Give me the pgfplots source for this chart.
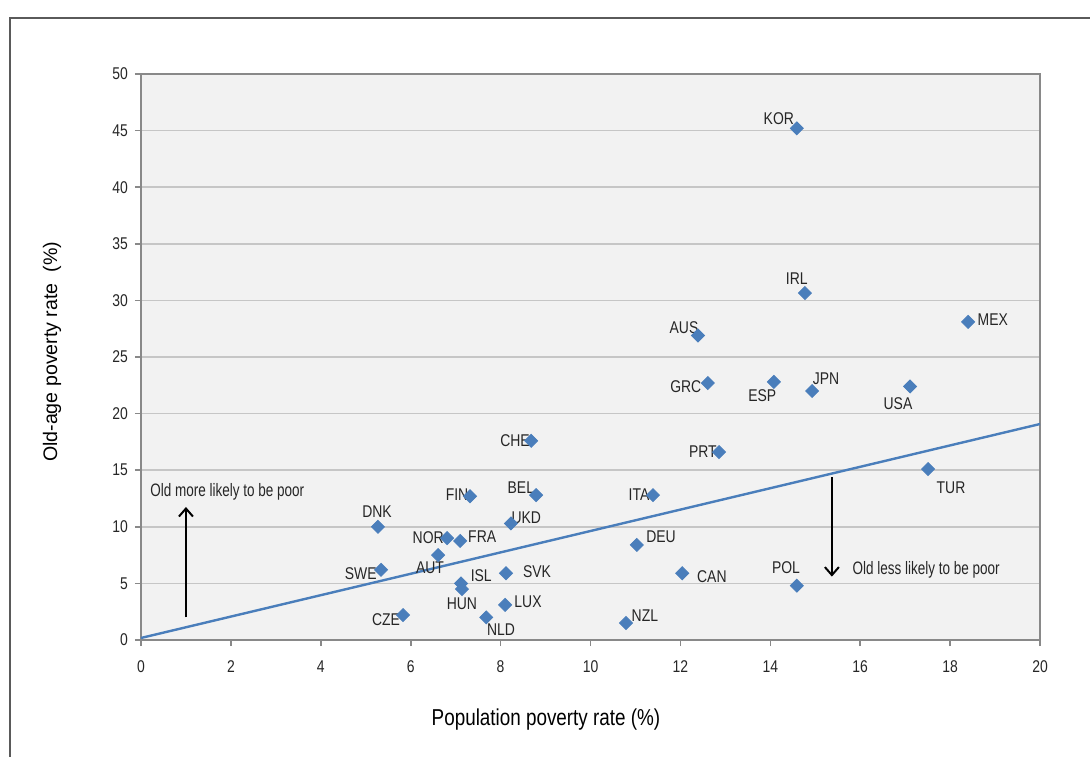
\documentclass[border=0pt]{standalone}
\usepackage{fontspec}
\setmainfont[FakeStretch=0.82]{Liberation Sans}
\newfontfamily\arial{Liberation Sans}
\newfontfamily\condfont[FakeStretch=0.75]{Liberation Sans}
\usepackage{pgfplots}
\usepackage{pgfplotstable}
\pgfplotsset{compat=1.18}
\usetikzlibrary{arrows.meta}
\definecolor{ptc}{HTML}{4A7EBB}
\definecolor{bgc}{HTML}{F2F2F2}
\definecolor{gridc}{HTML}{C6C6C6}
\definecolor{axc}{HTML}{898989}
\definecolor{framec}{HTML}{5A5A5A}
\definecolor{txtc}{HTML}{262626}

\pgfplotstableread{
x y name
14.59 45.2 KOR
14.77 30.65 IRL
18.40 28.1 MEX
12.39 26.9 AUS
12.61 22.7 GRC
14.08 22.8 ESP
14.93 22.0 JPN
17.11 22.4 USA
8.68 17.6 CHE
12.86 16.6 PRT
17.51 15.1 TUR
7.32 12.7 FIN
8.79 12.8 BEL
11.39 12.8 ITA
5.27 10.0 DNK
8.23 10.3 UKD
6.81 9.0 NOR
7.10 8.75 FRA
11.03 8.4 DEU
6.61 7.5 AUT
5.34 6.2 SWE
8.12 5.9 SVK
12.04 5.9 CAN
7.12 5.0 ISL
7.14 4.5 HUN
14.59 4.8 POL
8.10 3.1 LUX
5.83 2.2 CZE
7.68 2.0 NLD
10.79 1.5 NZL
}\data

\begin{document}
\begin{tikzpicture}
\path[use as bounding box] (-70.5pt,-58pt) rectangle (474.5pt,320pt);
\draw[framec, line width=0.9pt] (-65.5pt,-60pt) -- (-65.5pt,311pt) -- (476pt,311pt);
\begin{axis}[
  scale only axis, width=449.5pt, height=283pt,
  xmin=0, xmax=20, ymin=0, ymax=50,
  xtick={0,2,...,20}, ytick={0,5,...,50},
  axis background/.style={fill=bgc},
  ymajorgrids, grid style={gridc, line width=0.8pt},
  axis line style={axc, line width=0.9pt},
  tick style={axc, line width=0.8pt},
  tick align=outside, major tick length=3pt,
  xtick pos=bottom, ytick pos=left,
  ticklabel style={font=\fontsize{8.5}{9}\selectfont, text=txtc},
  xticklabel style={yshift=-4pt},
  /pgf/number format/assume math mode=true,
  xlabel={Population poverty rate (\%)},
  ylabel={\arial Old-age poverty rate~~(\%)},
  xlabel style={at={(axis description cs:0.4505,-0.1413)}, anchor=center, font=\fontsize{11.5}{13}\selectfont, text=black},
  ylabel style={at={(axis description cs:-0.099,0.509)}, anchor=center, rotate=0, font=\fontsize{9.8}{11}\selectfont, text=black},
  clip=false,
]
\addplot[ptc, line width=1.2pt] coordinates {(0,0.18) (20,19.08)};
\addplot[only marks, mark=square*, mark size=2.3pt, mark options={rotate=45, fill=ptc, draw=ptc}] table[x=x, y=y] {\data};
\begin{scope}[every node/.style={font=\fontsize{8.5}{9}\selectfont, text=txtc, inner sep=0pt}]
\node at (axis cs:14.19,46.1) {KOR};
\node at (axis cs:14.59,31.9) {IRL};
\node at (axis cs:18.95,28.3) {MEX};
\node at (axis cs:12.08,27.6) {AUS};
\node at (axis cs:12.12,22.35) {GRC};
\node at (axis cs:13.82,21.55) {ESP};
\node at (axis cs:15.24,23.06) {JPN};
\node at (axis cs:16.84,20.85) {USA};
\node at (axis cs:8.32,17.58) {CHE};
\node at (axis cs:12.5,16.6) {PRT};
\node at (axis cs:18.02,13.43) {TUR};
\node at (axis cs:7.03,12.8) {FIN};
\node at (axis cs:8.45,13.5) {BEL};
\node at (axis cs:11.08,12.8) {ITA};
\node at (axis cs:5.25,11.3) {DNK};
\node at (axis cs:8.57,10.8) {UKD};
\node at (axis cs:6.39,9.0) {NOR};
\node at (axis cs:7.59,9.1) {FRA};
\node at (axis cs:11.57,9.1) {DEU};
\node at (axis cs:6.43,6.36) {AUT};
\node at (axis cs:4.89,5.9) {SWE};
\node at (axis cs:8.81,6.0) {SVK};
\node at (axis cs:12.7,5.57) {CAN};
\node at (axis cs:7.57,5.65) {ISL};
\node at (axis cs:7.14,3.18) {HUN};
\node at (axis cs:14.35,6.36) {POL};
\node at (axis cs:8.61,3.36) {LUX};
\node at (axis cs:5.45,1.77) {CZE};
\node at (axis cs:8.01,0.88) {NLD};
\node at (axis cs:11.21,2.12) {NZL};
\end{scope}
\draw[black, line width=1pt, -{Straight Barb[length=4pt,width=7pt]}] (axis cs:1.0,2.0) -- (axis cs:1.0,11.75);
\draw[black, line width=1pt, -{Straight Barb[length=4pt,width=7pt]}] (axis cs:15.37,14.4) -- (axis cs:15.37,5.6);
\node[anchor=west, inner sep=0pt, font=\condfont\fontsize{9}{10}\selectfont, text=txtc] at (axis cs:0.2,13.07) {Old more likely to be poor};
\node[anchor=west, inner sep=0pt, font=\condfont\fontsize{9}{10}\selectfont, text=txtc] at (axis cs:15.82,6.18) {Old less likely to be poor};
\end{axis}
\end{tikzpicture}
\end{document}
